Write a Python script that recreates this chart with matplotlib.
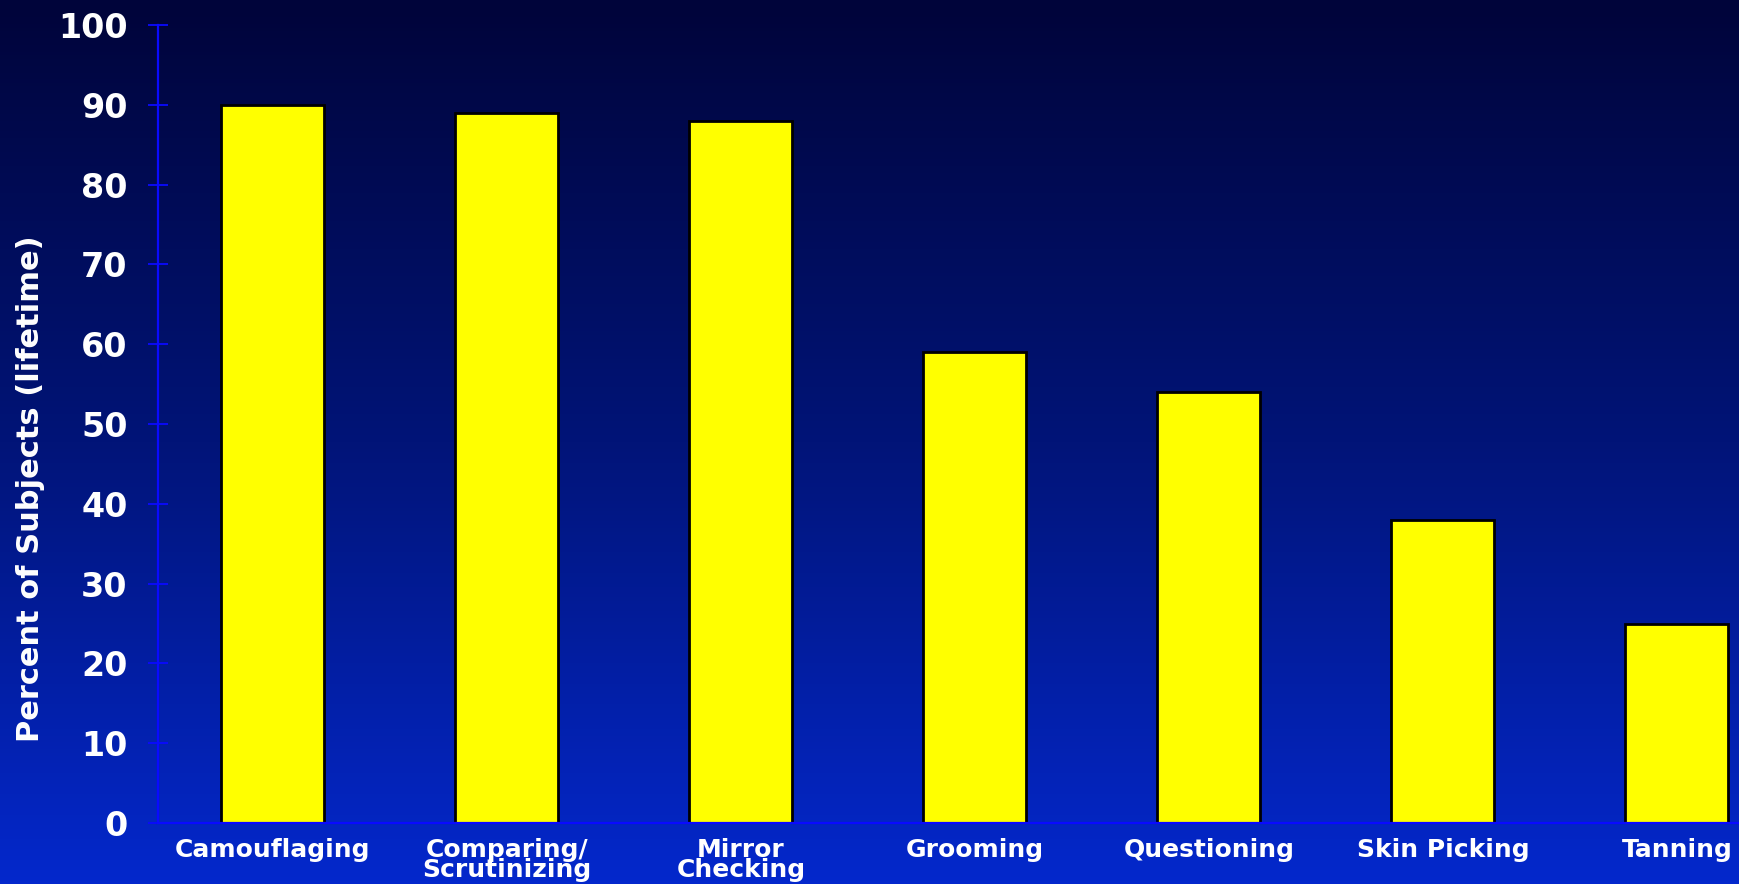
import numpy as np
import matplotlib.pyplot as plt
from matplotlib.colors import LinearSegmentedColormap

# Data
behaviors = ['Camouflaging', 'Comparing/\nScrutinizing', 'Mirror\nChecking',
             'Grooming', 'Questioning', 'Skin Picking', 'Tanning']
percent = [90, 89, 88, 59, 54, 38, 25]
y_ticks = [0, 10, 20, 30, 40, 50, 60, 70, 80, 90, 100]

plt.rcParams['font.family'] = ['DejaVu Sans']
plt.rcParams['font.weight'] = 'bold'

fig = plt.figure(figsize=(17.39, 8.84), dpi=100)

# vertical gradient background, dark navy at top to bright blue at bottom
bg = fig.add_axes([0, 0, 1, 1], zorder=0)
grad = LinearSegmentedColormap.from_list('bg', ['#00043a', '#011478', '#0428cc'])
bg.imshow(np.linspace(0, 1, 256).reshape(-1, 1), aspect='auto', cmap=grad,
          extent=[0, 1, 0, 1])
bg.axis('off')

ax = fig.add_axes([0.0909, 0.069, 0.9091, 0.9027], zorder=1)
ax.patch.set_alpha(0)

x = np.arange(len(behaviors))
ax.bar(x, percent, width=0.44, color='#ffff00', edgecolor='black', linewidth=2)

ax.set_xlim(-0.49, 6.265)
ax.set_ylim(0, 100)
ax.set_yticks(y_ticks)
ax.set_xticks(x)
ax.set_xticklabels(behaviors, color='white', fontsize=18, fontweight='bold',
                   linespacing=0.78)
ax.set_yticklabels([str(v) for v in y_ticks], color='white', fontsize=24,
                   fontweight='bold')

axis_blue = '#0a0aff'
for side in ['top', 'right']:
    ax.spines[side].set_visible(False)
ax.spines['left'].set_color(axis_blue)
ax.spines['bottom'].set_color(axis_blue)
ax.spines['left'].set_linewidth(1.6)
ax.spines['bottom'].set_linewidth(1.6)

ax.tick_params(axis='y', direction='inout', length=14, width=1.3, color=axis_blue, pad=15)
ax.tick_params(axis='x', length=0, pad=11)

fig.text(0.0173, 0.447, 'Percent of Subjects (lifetime)', rotation=90, color='white',
         fontsize=22, fontweight='bold', ha='center', va='center')

fig.savefig('out.png', dpi=100)
